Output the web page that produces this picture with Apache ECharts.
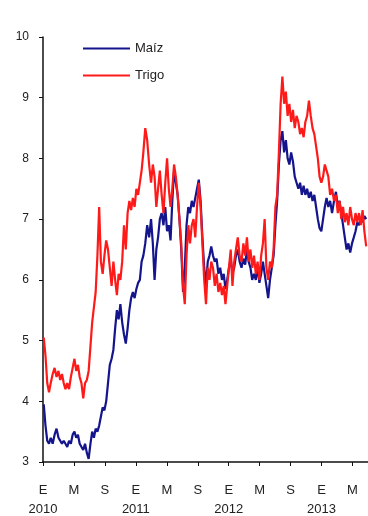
<!DOCTYPE html>
<html>
<head>
<meta charset="utf-8">
<script src="https://cdn.jsdelivr.net/npm/echarts@6/dist/echarts.min.js"></script>
<style>
  html, body { margin: 0; padding: 0; background: #fff; }
  #chart { width: 368px; height: 516px; }
</style>
</head>
<body>
<div id="chart"></div>
<script>
// Weekly prices, first week starting 2010-01-04
const firstWeek = '2010-01-04';

const maiz = [
  3.95, 3.6, 3.35, 3.3, 3.4, 3.3, 3.45, 3.55, 3.4, 3.35,
  3.3, 3.35, 3.3, 3.25, 3.35, 3.3, 3.45, 3.5, 3.4, 3.45,
  3.3, 3.25, 3.2, 3.3, 3.15, 3.05, 3.3, 3.5, 3.4, 3.55,
  3.5, 3.6, 3.75, 3.9, 3.85, 4.0, 4.3, 4.6, 4.7, 4.85,
  5.2, 5.5, 5.35, 5.6, 5.3, 5.1, 4.95, 5.2, 5.5, 5.7,
  5.8, 5.7, 5.85, 5.95, 6.0, 6.3, 6.4, 6.6, 6.9, 6.7,
  7.0, 6.6, 6.0, 6.5, 6.7, 7.0, 7.1, 6.9, 7.2, 6.8,
  6.9, 6.65, 7.3, 7.8, 7.6, 7.4, 7.0, 6.5, 5.8, 6.2,
  6.9, 7.2, 7.1, 7.3, 7.2, 7.35, 7.5, 7.65, 7.3, 6.7,
  6.2, 5.9, 6.3, 6.4, 6.55, 6.4, 6.3, 6.35, 6.1, 6.2,
  6.0, 6.1, 5.85, 6.0, 6.2, 6.35, 6.1, 6.2, 6.4, 6.5,
  6.3, 6.2, 6.35, 6.25, 6.5, 6.3, 6.2, 6.0, 6.1, 6.0,
  6.2, 5.95, 6.1, 6.3, 6.1, 5.9, 5.7, 6.0, 6.2, 6.4,
  6.9, 7.3, 7.9, 8.3, 8.45, 8.1, 8.3, 8.0, 7.9, 8.1,
  7.95, 7.7, 7.6, 7.5, 7.6, 7.4, 7.55, 7.4, 7.5, 7.35,
  7.45, 7.3, 7.4, 7.2, 7.0, 6.85, 6.8, 7.0, 7.2, 7.35,
  7.2, 7.3, 7.1, 7.3, 7.45, 7.2, 7.3, 7.1, 6.9, 6.7,
  6.5, 6.6, 6.45, 6.6, 6.7, 6.8, 6.95, 6.9, 7.0, 6.95,
  7.05, 7.0
];

const trigo = [
  5.05, 4.75, 4.3, 4.15, 4.3, 4.45, 4.55, 4.4, 4.5, 4.35,
  4.45, 4.3, 4.2, 4.3, 4.2, 4.4, 4.55, 4.7, 4.5, 4.6,
  4.4, 4.3, 4.05, 4.3, 4.35, 4.5, 4.9, 5.3, 5.55, 5.8,
  6.4, 7.2, 6.3, 6.1, 6.4, 6.65, 6.5, 6.2, 5.9, 6.3,
  6.0, 5.75, 6.1, 6.0, 6.3, 6.9, 6.5, 7.1, 7.3, 7.15,
  7.35, 7.2, 7.5, 7.4, 7.6, 7.8, 8.1, 8.5, 8.3, 7.9,
  7.6, 7.9, 7.7, 7.2, 7.5, 7.8, 7.4, 7.1, 7.6, 8.0,
  7.5, 7.2, 7.5, 7.9, 7.7, 7.4, 7.0, 6.6, 5.9, 5.6,
  6.4, 6.9, 6.6, 6.9, 7.0, 6.7, 7.2, 7.6, 7.2, 6.6,
  6.0, 5.6, 6.2, 6.0, 6.3, 6.2, 5.9, 6.1, 5.8, 5.95,
  5.75, 5.9, 5.6, 5.9, 6.2, 6.5, 5.9, 6.3, 6.5, 6.7,
  6.4, 6.3, 6.6, 6.4, 6.7, 6.3, 6.5, 6.2, 6.4, 6.1,
  6.3, 6.0, 6.4, 6.6, 7.0, 6.2, 6.0, 6.3, 6.2, 6.5,
  7.2, 7.4, 8.1, 8.9, 9.35, 8.9, 9.1, 8.7, 8.9, 8.6,
  8.8, 8.5, 8.7, 8.6, 8.4, 8.5, 8.35, 8.6, 8.7, 8.95,
  8.7, 8.5, 8.4, 8.4, 8.0, 7.7, 7.6, 7.7, 7.9, 7.8,
  7.7, 7.4, 7.5, 7.3, 7.4, 7.1, 7.3, 7.0, 7.2, 6.95,
  7.1, 6.9, 7.2, 7.0, 6.9, 7.1, 6.95, 7.1, 6.9, 7.15,
  6.8, 6.55
];

// Month initials shown on the time axis (Enero, Mayo, Septiembre)
const monthLetters = { 0: 'E', 4: 'M', 8: 'S' };
const firstYear = 2010;
const yTicks = { min: 3, max: 10, step: 1 };

// Convert a date to a fractional month index counted from January of firstYear
function monthIndex(d) {
  const y = d.getUTCFullYear(), m = d.getUTCMonth(), day = d.getUTCDate();
  const dim = new Date(Date.UTC(y, m + 1, 0)).getUTCDate();
  return (y - firstYear) * 12 + m + (day - 1) / dim;
}

function weeklySeries(values) {
  const start = new Date(firstWeek + 'T00:00:00Z');
  return values.map((v, i) => {
    const d = new Date(start.getTime() + i * 7 * 86400000);
    return [monthIndex(d), v];
  });
}

const font = "'Liberation Sans Narrow', 'Liberation Sans', Arial, sans-serif";

const chart = echarts.init(document.getElementById('chart'), null, { renderer: 'canvas' });
chart.setOption({
  animation: false,
  backgroundColor: '#ffffff',
  grid: { left: 43, right: 0, top: 37, bottom: 54, containLabel: false, outerBoundsMode: 'none' },
  legend: {
    left: 78, top: 37, orient: 'vertical',
    itemWidth: 47, itemHeight: 2, itemGap: 14,
    icon: 'rect',
    textStyle: { fontFamily: font, fontSize: 13, color: '#222' },
    data: ['Maíz', 'Trigo']
  },
  xAxis: {
    type: 'value', min: 0, max: 42, interval: 4,
    axisLine: { show: true, lineStyle: { color: '#111', width: 1.5 } },
    axisTick: { show: true, length: 4, lineStyle: { color: '#111' } },
    splitLine: { show: false },
    axisLabel: {
      showMaxLabel: false, margin: 19,
      fontFamily: font, fontSize: 13, color: '#222', lineHeight: 19,
      formatter: v => {
        const k = ((v % 12) + 12) % 12;
        const letter = monthLetters[k] || '';
        return k === 0 ? letter + '\n' + (firstYear + v / 12) : letter;
      }
    }
  },
  yAxis: {
    type: 'value', min: yTicks.min, max: yTicks.max, interval: yTicks.step,
    axisLine: { show: true, lineStyle: { color: '#111', width: 1.5 } },
    axisTick: { show: true, length: 4, lineStyle: { color: '#111' } },
    splitLine: { show: false },
    axisLabel: { margin: 14, fontFamily: font, fontSize: 12, color: '#222' }
  },
  series: [
    {
      name: 'Maíz', type: 'line', data: weeklySeries(maiz),
      showSymbol: false, symbol: 'none',
      lineStyle: { color: '#14148c', width: 2.2 }, itemStyle: { color: '#14148c' }
    },
    {
      name: 'Trigo', type: 'line', data: weeklySeries(trigo),
      showSymbol: false, symbol: 'none',
      lineStyle: { color: '#ff1a1a', width: 2.2 }, itemStyle: { color: '#ff1a1a' }
    }
  ]
});
</script>
</body>
</html>
